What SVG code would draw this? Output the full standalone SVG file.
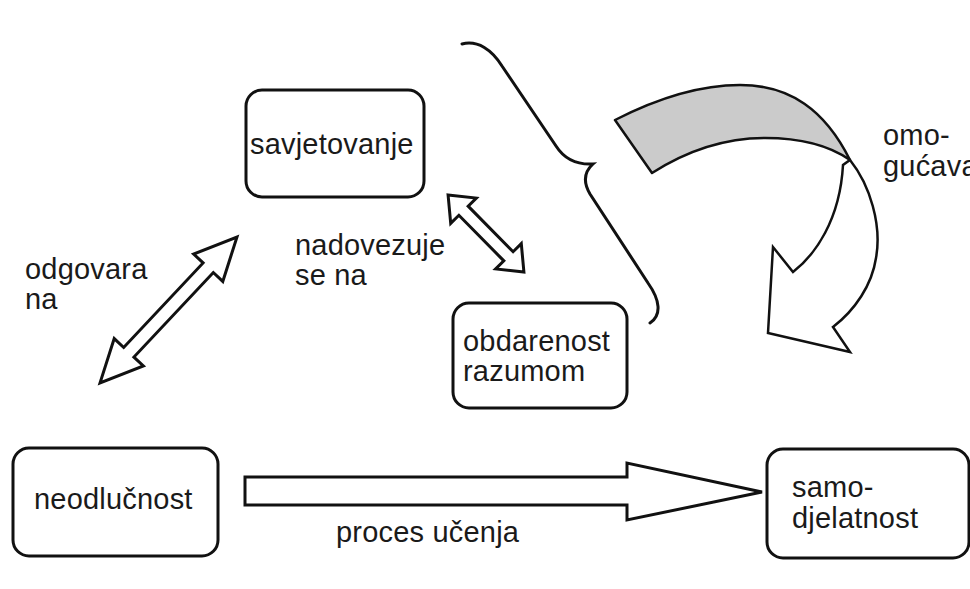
<svg xmlns="http://www.w3.org/2000/svg" width="970" height="589" viewBox="0 0 970 589">
<style>
.box{fill:#fff;stroke:#111;stroke-width:3}
.lbl{font-family:"Liberation Sans",Arial,sans-serif;font-size:29px;letter-spacing:0.2px;fill:#1a1a1a}
.arr{fill:#fff;stroke:#111;stroke-width:3;stroke-linejoin:miter}
.brace{fill:none;stroke:#111;stroke-width:3;stroke-linecap:round}
</style>
<rect width="970" height="589" fill="#fff"/>
<g id="connectors">
  <path id="brace" class="brace" d="M462,44 C478,40 492,50 502,66 L556,146 C563,157 575,165 593,164 C584,172 583,182 590,194 L648,283 C660,300 662,315 650,323"/>
  <g id="arrow-odgovara" transform="translate(168.5,310) rotate(-46.8)">
    <path class="arr" d="M-100,0 L-58,-20 L-58,-7 L58,-7 L58,-20 L100,0 L58,20 L58,7 L-58,7 L-58,20 Z"/>
  </g>
  <g id="arrow-nadovezuje" transform="translate(486,233.5) rotate(45.4)">
    <path class="arr" d="M-54,0 L-32,-18 L-32,-6.5 L32,-6.5 L32,-18 L54,0 L32,18 L32,6.5 L-32,6.5 L-32,18 Z"/>
  </g>
  <path id="arrow-proces" class="arr" d="M245,477 L627,477 L627,463 L762,492 L627,520 L627,505 L245,505 Z"/>
  <g id="arrow-omogucava">
    <path d="M615,120 C660,97 700,85 740,85 C790,85 825,110 850,160 C830,146 800,138 765,138 C725,138 688,150 652,173 Z" fill="#cbcbcb" stroke="#111" stroke-width="2.5" stroke-linejoin="round"/>
    <path d="M850,160 C870,185 882,225 876,258 C872,285 855,310 833,327 L850,352 L768,333 L773,247 L793,272 C815,255 840,220 843,165 Z" fill="#fff" stroke="#111" stroke-width="2.5" stroke-linejoin="miter"/>
  </g>
</g>
<g id="savjetovanje">
  <rect class="box" x="246" y="90" width="178" height="107" rx="16"/>
  <text class="lbl" x="250" y="154">savjetovanje</text>
</g>
<g id="obdarenost">
  <rect class="box" x="453" y="303" width="174" height="105" rx="16"/>
  <text class="lbl" x="463" y="351">obdarenost</text>
  <text class="lbl" x="463" y="381">razumom</text>
</g>
<g id="neodlucnost">
  <rect class="box" x="13" y="448" width="205" height="108" rx="16"/>
  <text class="lbl" x="34" y="509">neodlučnost</text>
</g>
<g id="samodjelatnost">
  <rect class="box" x="767" y="449" width="202" height="109" rx="16"/>
  <text class="lbl" x="792" y="497">samo-</text>
  <text class="lbl" x="792" y="528">djelatnost</text>
</g>
<g id="labels">
  <text class="lbl" x="25" y="279">odgovara</text>
  <text class="lbl" x="25" y="309">na</text>
  <text class="lbl" x="295" y="255">nadovezuje</text>
  <text class="lbl" x="295" y="285">se na</text>
  <text class="lbl" x="336" y="542">proces učenja</text>
  <text class="lbl" x="883" y="145">omo-</text>
  <text class="lbl" x="883" y="176">gućava</text>
</g>
</svg>
